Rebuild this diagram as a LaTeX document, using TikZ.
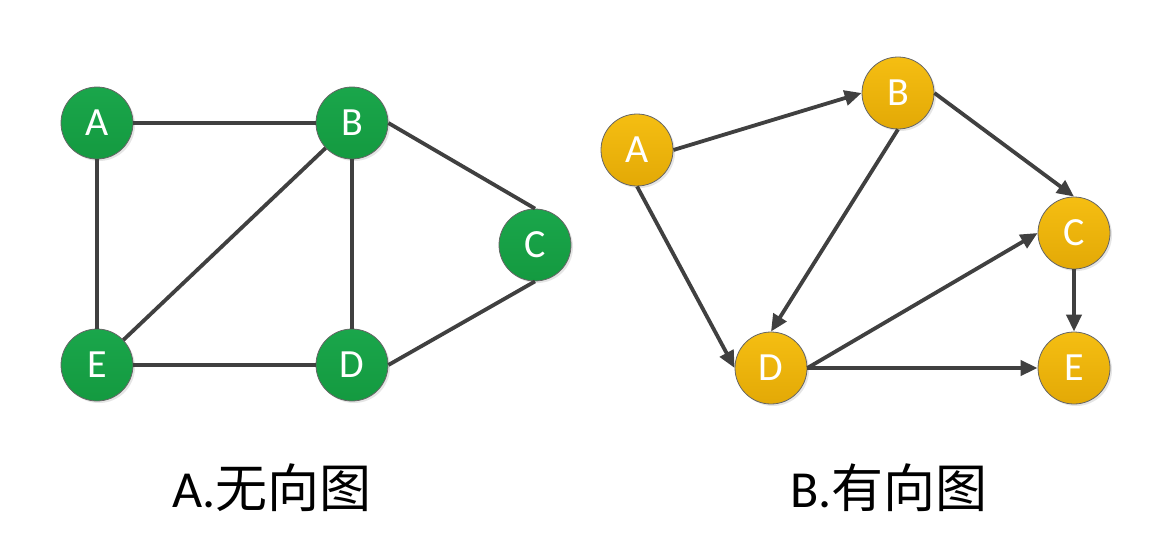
\documentclass[tikz,border=0pt]{standalone}
\usepackage{fontspec}
\setmainfont{Carlito}
\newfontfamily\cjk{Noto Sans CJK SC}
\usepackage{xcolor}
\usetikzlibrary{arrows.meta, shadows}
\definecolor{graphgreen}{HTML}{1AA64B}
\definecolor{graphgreendark}{HTML}{149A40}
\definecolor{graphgold}{HTML}{F5BE12}
\definecolor{graphgolddark}{HTML}{E3A906}
\definecolor{edgegray}{HTML}{404040}

\begin{document}
\begin{tikzpicture}[x=1pt, y=-1pt,
  vertex/.style={circle, minimum size=72pt, inner sep=0pt, draw=edgegray!80, line width=0.8pt,
    font=\fontsize{40}{40}\selectfont, text=white,
    drop shadow={shadow xshift=2pt, shadow yshift=-2pt, opacity=0.2}},
  greenv/.style={vertex, top color=graphgreen, bottom color=graphgreendark},
  goldv/.style={vertex, top color=graphgold, bottom color=graphgolddark},
  edge/.style={draw=edgegray, line width=3.8pt},
  arc/.style={edge, -{Triangle[length=17pt, width=15pt]}},
  caption/.style={font=\fontsize{52}{52}\selectfont}]
  \fill[white] (0,0) rectangle (1155,543);

  % undirected graph
  \node[greenv] (uA) at (97,123) {A};
  \node[greenv] (uB) at (352,123) {B};
  \node[greenv] (uC) at (535,245) {C};
  \node[greenv] (uE) at (97,365) {E};
  \node[greenv] (uD) at (352,365) {D};
  \draw[edge] (uA.east) -- (uB.west);
  \draw[edge] (uA.south) -- (uE.north);
  \draw[edge] (uE.east) -- (uD.west);
  \draw[edge] (uB.south) -- (uD.north);
  \draw[edge] (uE) -- (uB);
  \draw[edge] (uB.east) -- (uC.north);
  \draw[edge] (uC.south) -- (uD.east);

  % directed graph
  \node[goldv] (dA) at (637,150) {A};
  \node[goldv] (dB) at (898,93) {B};
  \node[goldv] (dC) at (1074,233) {C};
  \node[goldv] (dD) at (771,368) {D};
  \node[goldv] (dE) at (1074,368) {E};
  \draw[arc] (dA.east) -- (dB.west);
  \draw[arc] (dA.south) -- (dD.west);
  \draw[arc] (dB.east) -- (dC.north);
  \draw[arc] (dB.south) -- (dD.north);
  \draw[arc] (dD.east) -- (dC.west);
  \draw[arc] (dD.east) -- (dE.west);
  \draw[arc] (dC.south) -- (dE.north);

  % captions
  \node[caption] (capA) at (272,488) {A.{\cjk 无向图}};
  \node[caption] (capB) at (889,488) {B.{\cjk 有向图}};
\end{tikzpicture}
\end{document}
